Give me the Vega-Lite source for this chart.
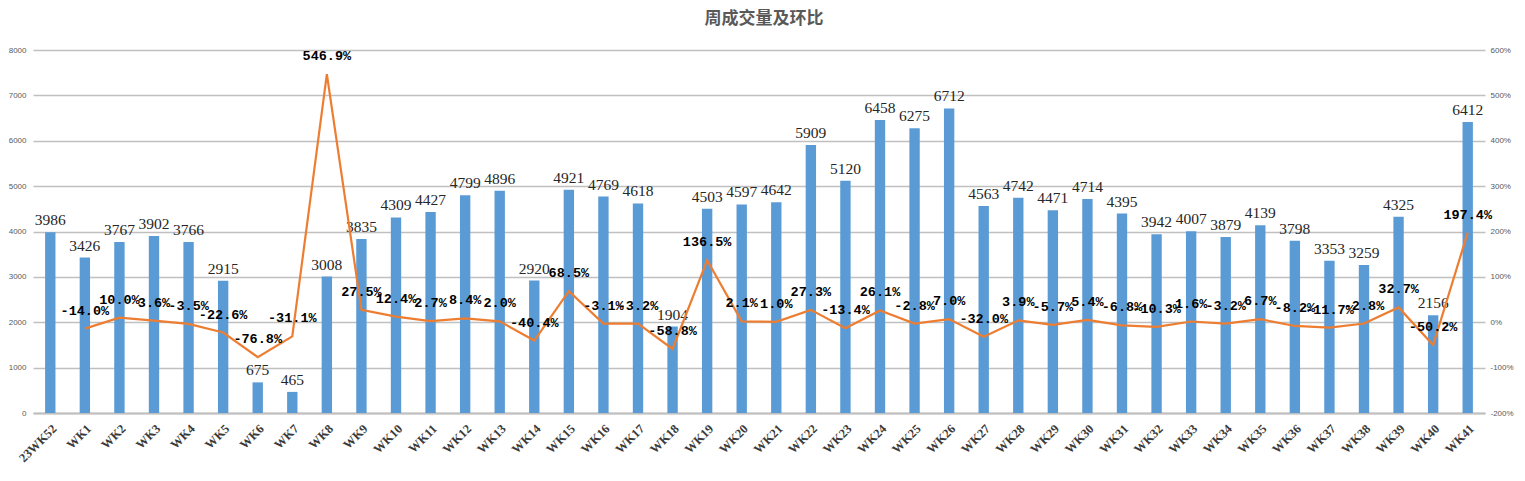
{
  "$schema": "https://vega.github.io/schema/vega-lite/v6.json",
  "autosize": {"type": "none"},
  "padding": {"left": 33, "top": 50, "right": 40, "bottom": 68},
  "width": 1452,
  "height": 363,
  "title": {"text": "周成交量及环比", "font": "Noto Sans CJK SC", "fontSize": 17, "fontWeight": "bold", "color": "#595959", "anchor": "middle", "offset": 18, "dx": 5},
  "config": {
    "view": {"stroke": null},
    "locale": {"number": {"decimal": ".", "thousands": ",", "grouping": [3], "currency": ["", ""], "minus": "-"}}
  },
  "data": {"values": [
    {"wk": "23WK52", "vol": 3986, "pct": null},
    {"wk": "WK1", "vol": 3426, "pct": -0.140},
    {"wk": "WK2", "vol": 3767, "pct": 0.100},
    {"wk": "WK3", "vol": 3902, "pct": 0.036},
    {"wk": "WK4", "vol": 3766, "pct": -0.035},
    {"wk": "WK5", "vol": 2915, "pct": -0.226},
    {"wk": "WK6", "vol": 675, "pct": -0.768},
    {"wk": "WK7", "vol": 465, "pct": -0.311},
    {"wk": "WK8", "vol": 3008, "pct": 5.469},
    {"wk": "WK9", "vol": 3835, "pct": 0.275},
    {"wk": "WK10", "vol": 4309, "pct": 0.124},
    {"wk": "WK11", "vol": 4427, "pct": 0.027},
    {"wk": "WK12", "vol": 4799, "pct": 0.084},
    {"wk": "WK13", "vol": 4896, "pct": 0.020},
    {"wk": "WK14", "vol": 2920, "pct": -0.404},
    {"wk": "WK15", "vol": 4921, "pct": 0.685},
    {"wk": "WK16", "vol": 4769, "pct": -0.031},
    {"wk": "WK17", "vol": 4618, "pct": -0.032},
    {"wk": "WK18", "vol": 1904, "pct": -0.588},
    {"wk": "WK19", "vol": 4503, "pct": 1.365},
    {"wk": "WK20", "vol": 4597, "pct": 0.021},
    {"wk": "WK21", "vol": 4642, "pct": 0.010},
    {"wk": "WK22", "vol": 5909, "pct": 0.273},
    {"wk": "WK23", "vol": 5120, "pct": -0.134},
    {"wk": "WK24", "vol": 6458, "pct": 0.261},
    {"wk": "WK25", "vol": 6275, "pct": -0.028},
    {"wk": "WK26", "vol": 6712, "pct": 0.070},
    {"wk": "WK27", "vol": 4563, "pct": -0.320},
    {"wk": "WK28", "vol": 4742, "pct": 0.039},
    {"wk": "WK29", "vol": 4471, "pct": -0.057},
    {"wk": "WK30", "vol": 4714, "pct": 0.054},
    {"wk": "WK31", "vol": 4395, "pct": -0.068},
    {"wk": "WK32", "vol": 3942, "pct": -0.103},
    {"wk": "WK33", "vol": 4007, "pct": 0.016},
    {"wk": "WK34", "vol": 3879, "pct": -0.032},
    {"wk": "WK35", "vol": 4139, "pct": 0.067},
    {"wk": "WK36", "vol": 3798, "pct": -0.082},
    {"wk": "WK37", "vol": 3353, "pct": -0.117},
    {"wk": "WK38", "vol": 3259, "pct": -0.028},
    {"wk": "WK39", "vol": 4325, "pct": 0.327},
    {"wk": "WK40", "vol": 2156, "pct": -0.502},
    {"wk": "WK41", "vol": 6412, "pct": 1.974}
  ]},
  "encoding": {
    "x": {
      "field": "wk", "type": "nominal", "sort": null, "title": null,
      "scale": {"paddingInner": 0.7, "paddingOuter": 0.35},
      "axis": {"labelAngle": -45, "labelFont": "Liberation Serif", "labelFontWeight": "bold", "labelFontSize": 12.5, "labelColor": "#3a3a3a", "labelPadding": 9, "ticks": false, "domainColor": "#bfbfbf", "domainWidth": 2}
    }
  },
  "layer": [
    {
      "encoding": {
        "y": {"field": "vol", "type": "quantitative", "title": null,
          "scale": {"domain": [0, 8000], "nice": false},
          "axis": {"values": [0,1000,2000,3000,4000,5000,6000,7000,8000], "format": "d", "labelFont": "Liberation Sans", "labelFontSize": 8, "labelColor": "#595959", "labelPadding": 7, "ticks": false, "domain": false, "gridColor": "#c0c0c0", "gridWidth": 1.5}}
      },
      "layer": [
        {"mark": {"type": "bar", "color": "#5b9bd5"}},
        {"mark": {"type": "text", "dy": -12, "font": "Liberation Serif", "fontSize": 15.5, "color": "#262626"}, "encoding": {"text": {"field": "vol", "type": "quantitative", "format": "d"}}}
      ]
    },
    {
      "encoding": {
        "y": {"field": "pct", "type": "quantitative", "title": null,
          "scale": {"domain": [-2, 6], "nice": false},
          "axis": {"orient": "right", "values": [-2,-1,0,1,2,3,4,5,6], "format": ".0%", "labelFont": "Liberation Sans", "labelFontSize": 8, "labelColor": "#595959", "labelPadding": 5, "ticks": false, "domain": false, "grid": false}}
      },
      "layer": [
        {"mark": {"type": "line", "color": "#ed7d31", "strokeWidth": 2.2}},
        {"mark": {"type": "text", "dy": -18, "font": "Liberation Mono", "fontWeight": "bold", "fontSize": 13.5, "color": "#000000"}, "encoding": {"text": {"field": "pct", "type": "quantitative", "format": ".1%"}}}
      ]
    }
  ],
  "resolve": {"scale": {"y": "independent"}}
}
